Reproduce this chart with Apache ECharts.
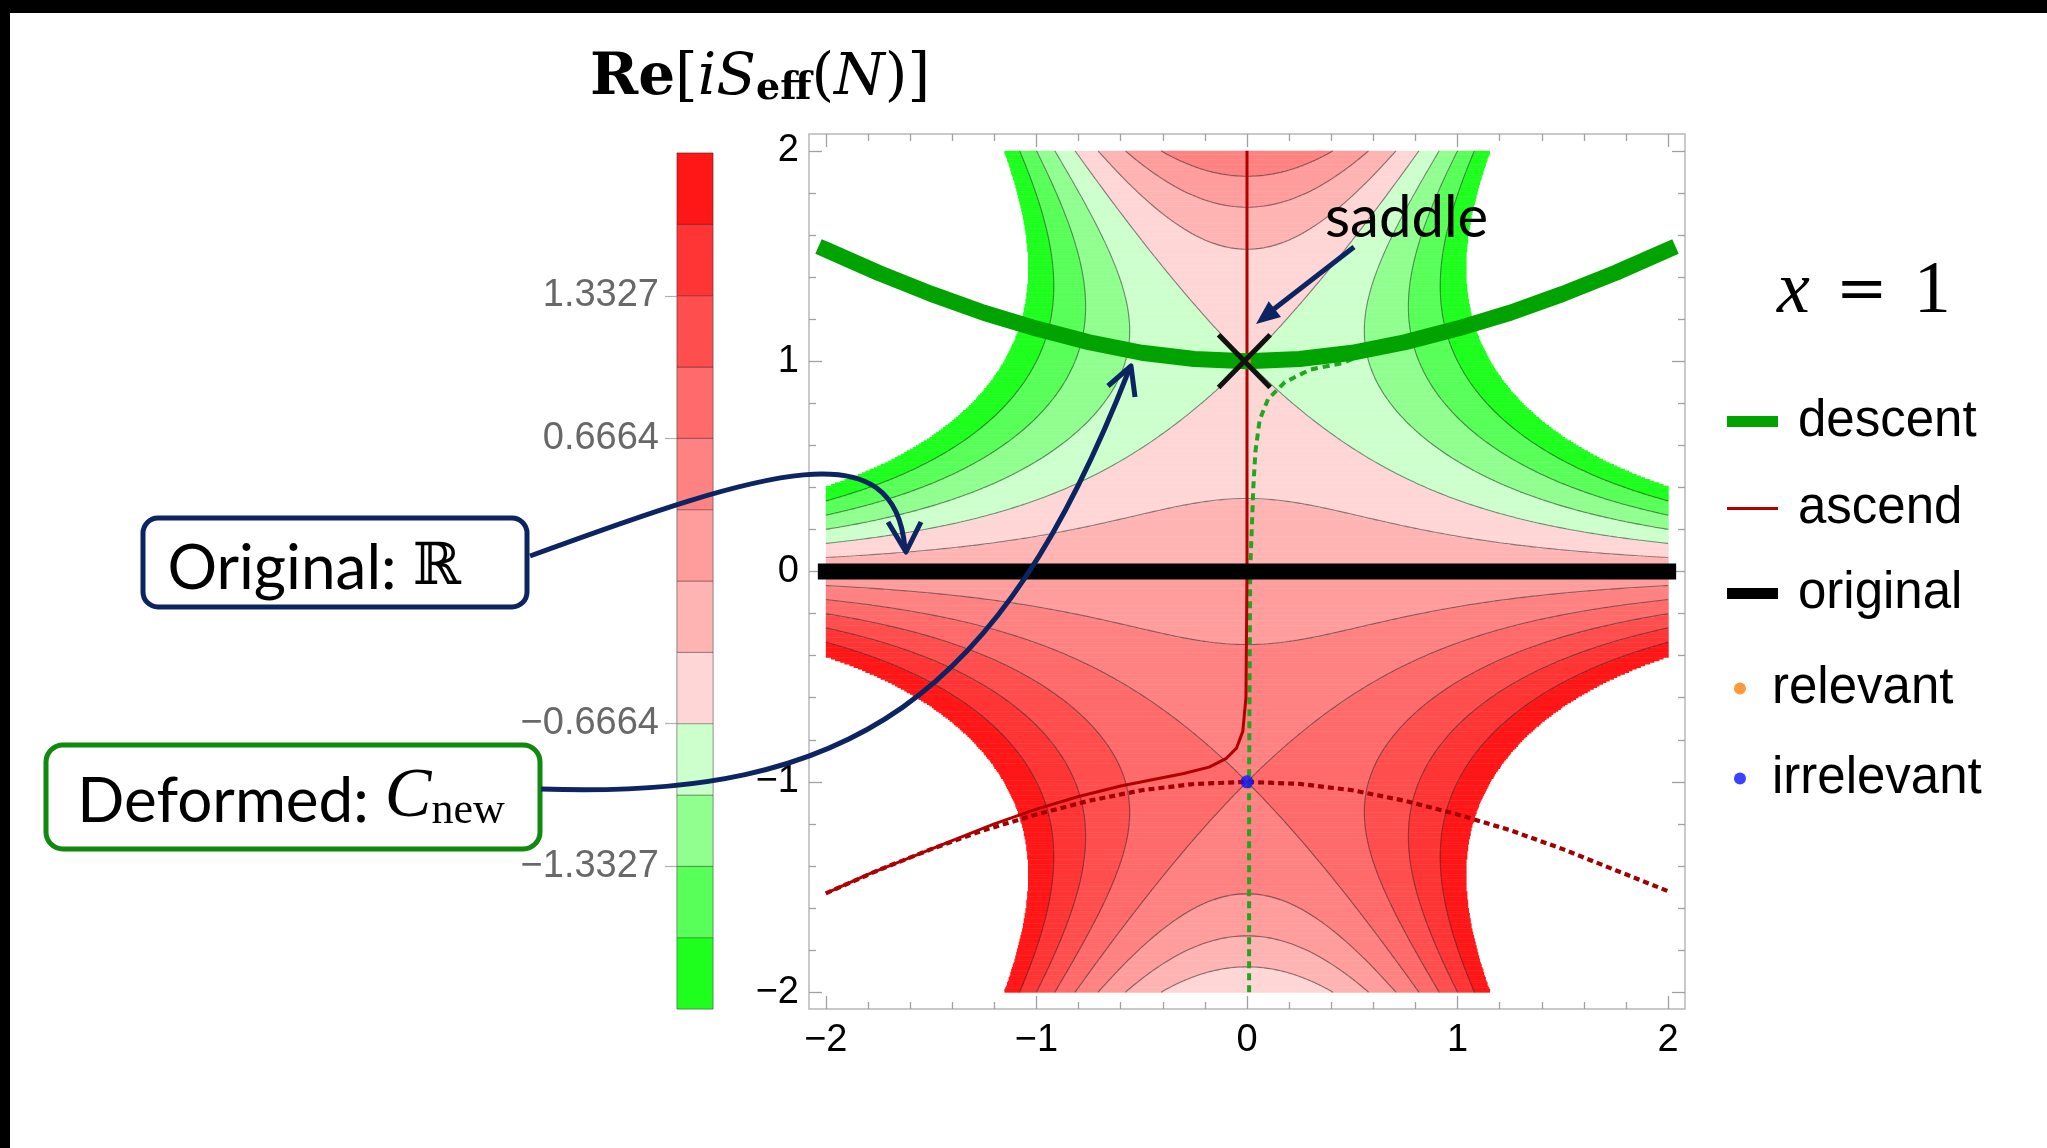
<!DOCTYPE html>
<html>
<head>
<meta charset="utf-8">
<script src="https://cdn.jsdelivr.net/npm/echarts@6/dist/echarts.min.js"></script>
<style>
html,body{margin:0;padding:0;background:#fff;}
#chart{width:2047px;height:1148px;}
</style>
</head>
<body>
<div id="chart"></div>
<script>
// ---------------- data ----------------
// parameter written on the slide: "x = 1"
const xParam = 1;
// colour bands of Re[iS_eff(N)] (edges and colours of the colour bar)
const bandEdges = [-2, -5/3, -4/3, -1, -2/3, -1/3, 0, 1/3, 2/3, 1, 4/3, 5/3, 2];
const bandColors = ['#1eff1e', '#58ff58', '#90ff90', '#ccffcc', '#ffd6d6', '#ffb4b4',
                    '#ff9c9c', '#ff8282', '#ff6a6a', '#ff4e4e', '#ff3434', '#ff1616'];
const contourLevels = [-5/3, -4/3, -1, -2/3, -1/3, 0, 1/3, 2/3, 1, 4/3, 5/3];
const colorbarTicks = [-1.3327, -0.6664, 0.6664, 1.3327];
const axisMajorTicks = [-2, -1, 0, 1, 2];
const axisMinorTicks = [-1.8, -1.6, -1.4, -1.2, -0.8, -0.6, -0.4, -0.2, 0.2, 0.4, 0.6, 0.8, 1.2, 1.4, 1.6, 1.8];

// descent (thick green)
const descentX = [-2, -1.75, -1.5, -1.25, -1, -0.75, -0.5, -0.25, 0, 0.25, 0.5, 0.75, 1, 1.25, 1.5, 1.75, 2];
const descentY = [1.53, 1.42, 1.32, 1.23, 1.155, 1.09, 1.04, 1.01, 1.0, 1.01, 1.04, 1.09, 1.155, 1.23, 1.32, 1.42, 1.53];
// ascend (thin dark red)
const ascendX = [0, 0, -0.005, -0.02, -0.05, -0.1, -0.18, -0.3, -0.45, -0.6, -0.8, -1.0, -1.2, -1.4, -1.6, -1.8, -2.0];
const ascendY = [2.0, 0, -0.6, -0.76, -0.84, -0.89, -0.93, -0.96, -0.99, -1.02, -1.07, -1.13, -1.2, -1.28, -1.36, -1.44, -1.53];
// dotted dark red curve through N = -i
const lowerThimbleX = [-2, -1.75, -1.5, -1.25, -1, -0.75, -0.5, -0.25, 0, 0.25, 0.5, 0.75, 1, 1.25, 1.5, 1.75, 2];
const lowerThimbleY = [-1.53, -1.42, -1.32, -1.23, -1.155, -1.09, -1.04, -1.01, -1.0, -1.01, -1.04, -1.09, -1.155, -1.23, -1.32, -1.42, -1.52];
// dashed green curve
const greenDashX = [0.01, 0.01, 0.015, 0.03, 0.04, 0.06, 0.1, 0.18, 0.3, 0.45, 0.6, 1.0, 1.5, 2.0];
const greenDashY = [-2.0, -1.0, 0.0, 0.4, 0.57, 0.72, 0.82, 0.9, 0.96, 0.99, 1.05, 1.155, 1.32, 1.53];
// original contour (real line)
const originalX = [-2, 2];
const originalY = [0, 0];
// saddle points
const relevantPoint = [0, 1];
const irrelevantPoint = [0, -1];
// cross marking the saddle
const crossA = [[-0.135, 1.125], [0.11, 0.875]];
const crossB = [[-0.135, 0.875], [0.11, 1.125]];

// ---------------- field of Re[iS_eff(N)], S_eff = N^3/3 + x N ----------------
function reIS(a, b) { return -(a * a * b - b * b * b / 3 + xParam * b); }
function bandOf(v) {
  if (v < -2 || v > 2) return -1;
  return Math.max(0, Math.min(11, Math.floor((v + 2) * 3)));
}
const fieldRuns = [];
(function () {
  const NY = 500, NX = 1000, DY = 4 / NY, DX = 4 / NX;
  for (let j = 0; j < NY; j++) {
    const y0 = -2 + j * DY, y1 = y0 + DY, yc = y0 + DY / 2;
    let cur = bandOf(reIS(-2 + 0.5 * DX, yc)), start = 0;
    for (let i = 1; i <= NX; i++) {
      const b = i < NX ? bandOf(reIS(-2 + (i + 0.5) * DX, yc)) : -9;
      if (b !== cur) {
        if (cur >= 0) fieldRuns.push([-2 + start * DX, -2 + i * DX, y0, y1, cur]);
        cur = b; start = i;
      }
    }
  }
})();
const contourSegs = [];
(function () {
  const n = 200, g = 4 / n, V = [];
  for (let i = 0; i <= n; i++) { const r = []; for (let j = 0; j <= n; j++) r.push(reIS(-2 + i * g, -2 + j * g)); V.push(r); }
  for (const L of contourLevels) {
    for (let i = 0; i < n; i++) for (let j = 0; j < n; j++) {
      const x0 = -2 + i * g, x1 = x0 + g, y0 = -2 + j * g, y1 = y0 + g;
      const a = V[i][j] - L, b = V[i + 1][j] - L, c = V[i + 1][j + 1] - L, d = V[i][j + 1] - L;
      const sa = a > 0, sb = b > 0, sc = c > 0, sd = d > 0;
      if (sa === sb && sb === sc && sc === sd) continue;
      const E = {};
      if (sa !== sb) E.ab = [x0 + g * a / (a - b), y0];
      if (sb !== sc) E.bc = [x1, y0 + g * b / (b - c)];
      if (sc !== sd) E.cd = [x1 - g * c / (c - d), y1];
      if (sd !== sa) E.da = [x0, y1 - g * d / (d - a)];
      const k = Object.keys(E);
      if (k.length === 2) contourSegs.push({ coords: [E[k[0]], E[k[1]]] });
      else if (k.length === 4) {
        const ctr = (a + b + c + d) / 4 > 0;
        if (ctr === sa) { contourSegs.push({ coords: [E.ab, E.bc] }); contourSegs.push({ coords: [E.cd, E.da] }); }
        else { contourSegs.push({ coords: [E.ab, E.da] }); contourSegs.push({ coords: [E.bc, E.cd] }); }
      }
    }
  }
})();
const colorbarBands = bandColors.map((c, i) => [bandEdges[i], bandEdges[i + 1], i]);

const zip = (xs, ys) => xs.map((x, i) => [x, ys[i]]);
const minus = v => (v < 0 ? '\u2212' : '') + Math.abs(v);

// ---------------- axes ----------------
const AX = { min: -2.08, max: 2.08 };
const TICKFONT = { color: '#000', fontSize: 38, fontFamily: 'Liberation Sans, Arial, sans-serif' };
function xAxisDef(pos, vals, len, labels) {
  return {
    type: 'value', gridIndex: 0, position: pos, min: AX.min, max: AX.max,
    axisLine: { show: false, onZero: false }, splitLine: { show: false },
    axisTick: { show: true, inside: true, length: len, customValues: vals, lineStyle: { color: '#a0a0a0', width: 1.3 } },
    axisLabel: Object.assign({ show: labels, customValues: vals, margin: 13, formatter: minus }, TICKFONT)
  };
}
function yAxisDef(pos, vals, len, labels) {
  return {
    type: 'value', gridIndex: 0, position: pos, min: AX.min, max: AX.max,
    axisLine: { show: false, onZero: false }, splitLine: { show: false },
    axisTick: { show: true, inside: true, length: len, customValues: vals, lineStyle: { color: '#a0a0a0', width: 1.3 } },
    axisLabel: Object.assign({ show: labels, customValues: vals, margin: 10, formatter: minus }, TICKFONT)
  };
}

const NAVY = '#0c2461';
const legendBase = {
  orient: 'horizontal', padding: 0, selectedMode: false, itemGap: 0,
  textStyle: { fontSize: 51, fontFamily: 'Liberation Sans, Arial, sans-serif', color: '#000',
               rich: { g: { width: 15 }, h: { width: 21 } } }
};

const option = {
  animation: false,
  backgroundColor: '#fff',
  title: {
    left: 590, top: 42, padding: 0,
    text: '{b|Re}{r|[}{i|iS}{s|eff}{r|(}{i|N}{r|)]}',
    textStyle: {
      fontWeight: 'normal',
      rich: {
        b: { fontFamily: 'DejaVu Serif', fontWeight: 'bold', fontSize: 58, lineHeight: 66, verticalAlign: 'bottom', color: '#000' },
        r: { fontFamily: 'DejaVu Serif', fontWeight: 'normal', fontSize: 58, lineHeight: 66, verticalAlign: 'bottom', color: '#000' },
        i: { fontFamily: 'DejaVu Serif', fontWeight: 'normal', fontStyle: 'italic', fontSize: 58, lineHeight: 66, verticalAlign: 'bottom', color: '#000' },
        s: { fontFamily: 'DejaVu Serif', fontWeight: 'bold', fontSize: 38, lineHeight: 28, verticalAlign: 'bottom', color: '#000' }
      }
    }
  },
  grid: [
    { left: 809, top: 134, width: 876, height: 875, show: true, borderColor: '#b8b8b8', borderWidth: 1.5, backgroundColor: 'transparent' },
    { left: 677, top: 153, width: 36, height: 856, show: true, borderColor: '#b8b8b8', borderWidth: 1, backgroundColor: 'transparent' }
  ],
  xAxis: [
    xAxisDef('bottom', axisMajorTicks, 13, true),
    xAxisDef('bottom', axisMinorTicks, 7, false),
    xAxisDef('top', axisMajorTicks, 13, false),
    xAxisDef('top', axisMinorTicks, 7, false),
    { type: 'value', gridIndex: 1, min: 0, max: 1, show: false }
  ],
  yAxis: [
    yAxisDef('left', axisMajorTicks, 13, true),
    yAxisDef('left', axisMinorTicks, 7, false),
    yAxisDef('right', axisMajorTicks, 13, false),
    yAxisDef('right', axisMinorTicks, 7, false),
    {
      type: 'value', gridIndex: 1, min: -2, max: 2, position: 'left',
      axisLine: { show: false }, splitLine: { show: false },
      axisTick: { show: true, inside: false, length: 12, customValues: colorbarTicks, lineStyle: { color: '#b0b0b0', width: 1.2 } },
      axisLabel: { customValues: colorbarTicks, margin: 18, color: '#686868', fontSize: 38,
                   fontFamily: 'Liberation Sans, Arial, sans-serif',
                   formatter: v => (v < 0 ? '\u2212' : '') + Math.abs(v).toFixed(4) }
    }
  ],
  legend: [
    Object.assign({}, legendBase, { left: 1727, top: 396, itemWidth: 51, itemHeight: 11,
      formatter: n => '{g| }' + n, data: [{ name: 'descent', icon: 'rect', itemStyle: { color: '#00a300', borderWidth: 0 } }] }),
    Object.assign({}, legendBase, { left: 1727, top: 483, itemWidth: 51, itemHeight: 3,
      formatter: n => '{g| }' + n, data: [{ name: 'ascend', icon: 'rect', itemStyle: { color: '#b00000', borderWidth: 0 } }] }),
    Object.assign({}, legendBase, { left: 1727, top: 568, itemWidth: 51, itemHeight: 11,
      formatter: n => '{g| }' + n, data: [{ name: 'original', icon: 'rect', itemStyle: { color: '#000', borderWidth: 0 } }] }),
    Object.assign({}, legendBase, { left: 1734, top: 663, itemWidth: 12, itemHeight: 12,
      formatter: n => '{h| }' + n, data: [{ name: 'relevant', icon: 'circle', itemStyle: { color: '#ff7f0e', borderWidth: 0 } }] }),
    Object.assign({}, legendBase, { left: 1734, top: 753, itemWidth: 12, itemHeight: 12,
      formatter: n => '{h| }' + n, data: [{ name: 'irrelevant', icon: 'circle', itemStyle: { color: '#0a14ff', borderWidth: 0 } }] })
  ],
  series: [
    {
      name: 'field', type: 'custom', xAxisIndex: 0, yAxisIndex: 0, z: 1, silent: true, clip: true, progressive: 0,
      data: fieldRuns, encode: { x: [0, 1], y: [2, 3] },
      renderItem: (params, api) => {
        const p = api.coord([api.value(0), api.value(3)]);
        const q = api.coord([api.value(1), api.value(2)]);
        return { type: 'rect', shape: { x: p[0], y: p[1], width: q[0] - p[0] + 0.5, height: q[1] - p[1] + 0.5 },
                 style: { fill: bandColors[api.value(4)] } };
      }
    },
    {
      name: 'contours', type: 'lines', coordinateSystem: 'cartesian2d', xAxisIndex: 0, yAxisIndex: 0, z: 2,
      silent: true, large: true, largeThreshold: 100, progressive: 0, polyline: false,
      lineStyle: { color: 'rgba(40,40,40,0.55)', width: 1.1, opacity: 1 },
      data: contourSegs
    },
    {
      name: 'lowerThimble', type: 'line', xAxisIndex: 0, yAxisIndex: 0, z: 3, symbol: 'none', silent: true,
      data: zip(lowerThimbleX, lowerThimbleY),
      lineStyle: { color: '#a00000', width: 4.2, type: [6, 4] }
    },
    {
      name: 'greenDash', type: 'line', xAxisIndex: 0, yAxisIndex: 0, z: 3, symbol: 'none', silent: true,
      data: zip(greenDashX, greenDashY),
      lineStyle: { color: '#1fa81f', width: 4, type: [7, 5] }
    },
    {
      name: 'ascend', type: 'line', xAxisIndex: 0, yAxisIndex: 0, z: 4, symbol: 'none', silent: true,
      data: zip(ascendX, ascendY), itemStyle: { color: '#b00000' },
      lineStyle: { color: '#b00000', width: 3 }
    },
    {
      name: 'descent', type: 'line', xAxisIndex: 0, yAxisIndex: 0, z: 5, symbol: 'none', silent: true,
      data: zip(descentX, descentY), itemStyle: { color: '#00a300' },
      lineStyle: { color: '#00a300', width: 16, cap: 'square', join: 'round' }
    },
    {
      name: 'original', type: 'line', xAxisIndex: 0, yAxisIndex: 0, z: 6, symbol: 'none', silent: true,
      data: zip(originalX, originalY), itemStyle: { color: '#000' },
      lineStyle: { color: '#000', width: 16, cap: 'square' }
    },
    {
      name: 'relevant', type: 'scatter', xAxisIndex: 0, yAxisIndex: 0, z: 7, silent: true,
      data: [relevantPoint], symbolSize: 8, itemStyle: { color: '#ff7f0e' }
    },
    {
      name: 'irrelevant', type: 'scatter', xAxisIndex: 0, yAxisIndex: 0, z: 7, silent: true,
      data: [irrelevantPoint], symbolSize: 13, itemStyle: { color: '#0a14ff' }
    },
    {
      name: 'saddleCross', type: 'lines', coordinateSystem: 'cartesian2d', xAxisIndex: 0, yAxisIndex: 0, z: 8, silent: true,
      data: [{ coords: crossA }, { coords: crossB }],
      lineStyle: { color: '#111', width: 5, opacity: 1 }
    },
    {
      name: 'colorbar', type: 'custom', xAxisIndex: 4, yAxisIndex: 4, z: 2, silent: true,
      data: colorbarBands, encode: { y: [0, 1] },
      renderItem: (params, api) => {
        const p = api.coord([0, api.value(1)]);
        const q = api.coord([1, api.value(0)]);
        return { type: 'rect', shape: { x: p[0], y: p[1], width: q[0] - p[0], height: q[1] - p[1] },
                 style: { fill: bandColors[api.value(2)], stroke: 'rgba(0,0,0,0.3)', lineWidth: 1 } };
      }
    }
  ],
  graphic: {
    elements: [
      { type: 'rect', z: 200, shape: { x: 0, y: 0, width: 2047, height: 13 }, style: { fill: '#000' } },
      { type: 'rect', z: 200, shape: { x: 0, y: 0, width: 10, height: 1148 }, style: { fill: '#000' } },
      // saddle label + arrow
      { type: 'text', z: 150, x: 1325, y: 218,
        style: { text: 'saddle', fill: '#000', font: '58px Lato, "DejaVu Sans", sans-serif', align: 'left', verticalAlign: 'middle' } },
      { type: 'line', z: 150, shape: { x1: 1354, y1: 247, x2: 1274, y2: 309 }, style: { stroke: NAVY, lineWidth: 5 } },
      { type: 'polygon', z: 150, shape: { points: [[1256, 324], [1281, 317], [1268.7, 301.3]] }, style: { fill: NAVY } },
      // x = 1
      { type: 'text', z: 150, x: 1777, y: 293,
        style: {
          text: '{x|x}{e|=}{n|1}', align: 'left', verticalAlign: 'middle',
          rich: {
            x: { fontFamily: 'Liberation Serif', fontStyle: 'italic', fontSize: 74, lineHeight: 80, fill: '#000' },
            e: { fontFamily: 'DejaVu Serif', fontSize: 62, lineHeight: 80, padding: [0, 26, 0, 26], fill: '#000' },
            n: { fontFamily: 'Liberation Serif', fontSize: 74, lineHeight: 80, fill: '#000' }
          }
        } },
      // Original box
      { type: 'rect', z: 150, shape: { x: 143, y: 518, width: 384, height: 89, r: 15 },
        style: { fill: '#fff', stroke: NAVY, lineWidth: 5 } },
      { type: 'text', z: 151, x: 314, y: 569,
        style: {
          text: '{a|Original: }{r|\u211D}', align: 'center', verticalAlign: 'middle',
          rich: {
            a: { fontFamily: 'Lato, "DejaVu Sans", sans-serif', fontSize: 62, lineHeight: 70, fill: '#000' },
            r: { fontFamily: '"DejaVu Serif", serif', fontSize: 58, lineHeight: 70, fill: '#000' }
          }
        } },
      // Deformed box
      { type: 'rect', z: 150, shape: { x: 46, y: 745, width: 494, height: 104, r: 17 },
        style: { fill: '#fff', stroke: '#0f8a0f', lineWidth: 5 } },
      { type: 'text', z: 151, x: 291, y: 798,
        style: {
          text: '{a|Deformed: }{c|C}{s|new}', align: 'center', verticalAlign: 'middle',
          rich: {
            a: { fontFamily: 'Lato, "DejaVu Sans", sans-serif', fontSize: 62, lineHeight: 70, verticalAlign: 'bottom', fill: '#000' },
            c: { fontFamily: 'Liberation Serif, serif', fontStyle: 'italic', fontSize: 70, lineHeight: 70, verticalAlign: 'bottom', fill: '#000' },
            s: { fontFamily: 'Liberation Serif, serif', fontSize: 44, lineHeight: 29, verticalAlign: 'bottom', fill: '#000' }
          }
        } },
      // curved arrows
      { type: 'bezierCurve', z: 160,
        shape: { x1: 530, y1: 556, cpx1: 770, cpy1: 468, cpx2: 895, cpy2: 430, x2: 905, y2: 549 },
        style: { stroke: NAVY, lineWidth: 5, fill: null } },
      { type: 'polyline', z: 160, shape: { points: [[888, 522], [906, 552], [921, 522]] },
        style: { stroke: NAVY, lineWidth: 5, fill: null, lineJoin: 'round' } },
      { type: 'bezierCurve', z: 160,
        shape: { x1: 541, y1: 789, cpx1: 850, cpy1: 800, cpx2: 1000, cpy2: 700, x2: 1129, y2: 370 },
        style: { stroke: NAVY, lineWidth: 5, fill: null } },
      { type: 'polyline', z: 160, shape: { points: [[1108, 386], [1131, 366], [1135, 397]] },
        style: { stroke: NAVY, lineWidth: 5, fill: null, lineJoin: 'round' } }
    ]
  }
};

const chart = echarts.init(document.getElementById('chart'), null, { renderer: 'canvas' });
chart.setOption(option);
</script>
</body>
</html>
